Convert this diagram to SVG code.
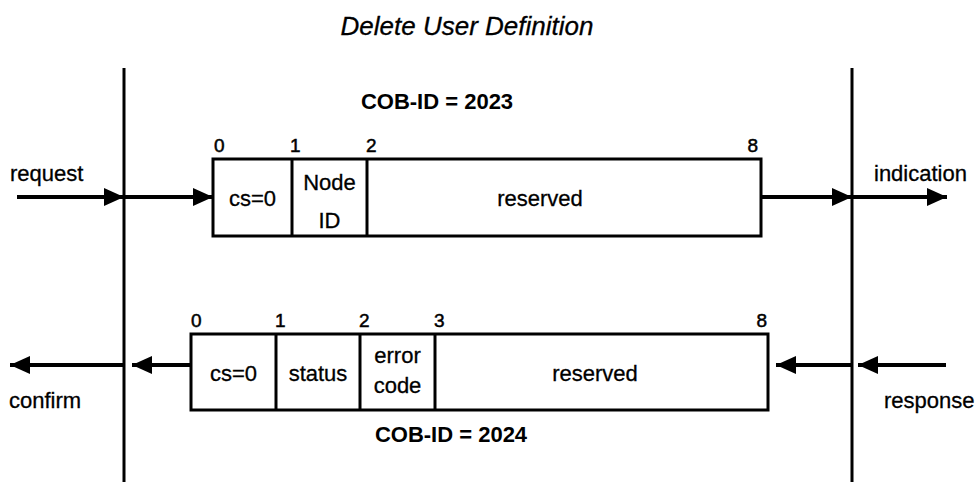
<svg xmlns="http://www.w3.org/2000/svg" width="977" height="482" viewBox="0 0 977 482">
  <defs>
    <style>
      .lbl { font-family: "Liberation Sans", Arial, Helvetica, sans-serif; font-size: 22px; fill: #000; stroke: #000; stroke-width: 0.3; }
      .num { font-family: "Liberation Sans", Arial, Helvetica, sans-serif; font-size: 19px; fill: #000; stroke: #000; stroke-width: 0.5; }
      .cob { font-family: "Liberation Sans", Arial, Helvetica, sans-serif; font-size: 22px; font-weight: bold; fill: #000; }
      .title { font-family: "Liberation Sans", Arial, Helvetica, sans-serif; font-size: 26px; font-style: italic; fill: #000; stroke: #000; stroke-width: 0.3; }
      .mid { text-anchor: middle; }
      .end { text-anchor: end; }
      .box { fill: #fff; stroke: #000; stroke-width: 3; }
      .div { stroke: #000; stroke-width: 3; }
      .life { stroke: #000; stroke-width: 3; }
      .conn { stroke: #000; stroke-width: 4; fill: none; }
    </style>
    <marker id="head" viewBox="0 0 20 18" refX="20" refY="9" markerUnits="userSpaceOnUse" markerWidth="20" markerHeight="18" orient="auto">
      <path d="M0,0 L20,9 L0,18 Z" fill="#000"/>
    </marker>
  </defs>

  <rect width="977" height="482" fill="#fff"/>

  <!-- title -->
  <text class="title mid" x="467" y="35">Delete User Definition</text>

  <!-- lifelines -->
  <g id="lifelines">
    <line class="life" x1="124" y1="68" x2="124" y2="482"/>
    <line class="life" x1="852" y1="68" x2="852" y2="482"/>
  </g>

  <!-- request frame -->
  <g id="request-frame">
    <text class="cob mid" x="437" y="109">COB-ID = 2023</text>
    <rect class="box" x="213" y="159" width="548" height="77"/>
    <line class="div" x1="292" y1="159" x2="292" y2="236"/>
    <line class="div" x1="367" y1="159" x2="367" y2="236"/>
    <text class="num" x="214" y="152">0</text>
    <text class="num" x="290" y="152">1</text>
    <text class="num" x="366" y="152">2</text>
    <text class="num end" x="758" y="152">8</text>
    <text class="lbl mid" x="252.5" y="206">cs=0</text>
    <text class="lbl mid" x="329.5" y="190">Node</text>
    <text class="lbl mid" x="329.5" y="228">ID</text>
    <text class="lbl mid" x="540" y="206">reserved</text>
  </g>

  <!-- response frame -->
  <g id="response-frame">
    <rect class="box" x="191" y="334" width="577" height="76"/>
    <line class="div" x1="276" y1="334" x2="276" y2="410"/>
    <line class="div" x1="360" y1="334" x2="360" y2="410"/>
    <line class="div" x1="435" y1="334" x2="435" y2="410"/>
    <text class="num" x="191" y="327">0</text>
    <text class="num" x="275" y="327">1</text>
    <text class="num" x="359" y="327">2</text>
    <text class="num" x="434" y="327">3</text>
    <text class="num end" x="767" y="327">8</text>
    <text class="lbl mid" x="233.5" y="381">cs=0</text>
    <text class="lbl mid" x="318" y="381">status</text>
    <text class="lbl mid" x="397.5" y="363">error</text>
    <text class="lbl mid" x="397.5" y="393">code</text>
    <text class="lbl mid" x="595" y="381">reserved</text>
    <text class="cob mid" x="451" y="442">COB-ID = 2024</text>
  </g>

  <!-- service primitive labels -->
  <g id="primitives">
    <text class="lbl" x="10" y="181">request</text>
    <text class="lbl" x="874" y="181">indication</text>
    <text class="lbl" x="9" y="408">confirm</text>
    <text class="lbl" x="884" y="408">response</text>
  </g>

  <!-- connectors -->
  <g id="connectors">
    <line class="conn" x1="17" y1="197" x2="124" y2="197" marker-end="url(#head)"/>
    <line class="conn" x1="124" y1="197" x2="213" y2="197" marker-end="url(#head)"/>
    <line class="conn" x1="761" y1="197" x2="852" y2="197" marker-end="url(#head)"/>
    <line class="conn" x1="852" y1="197" x2="947" y2="197" marker-end="url(#head)"/>
    <line class="conn" x1="946" y1="365" x2="858" y2="365" marker-end="url(#head)"/>
    <line class="conn" x1="852" y1="365" x2="776" y2="365" marker-end="url(#head)"/>
    <line class="conn" x1="191" y1="365" x2="132" y2="365" marker-end="url(#head)"/>
    <line class="conn" x1="123" y1="365" x2="10" y2="365" marker-end="url(#head)"/>
  </g>
</svg>
